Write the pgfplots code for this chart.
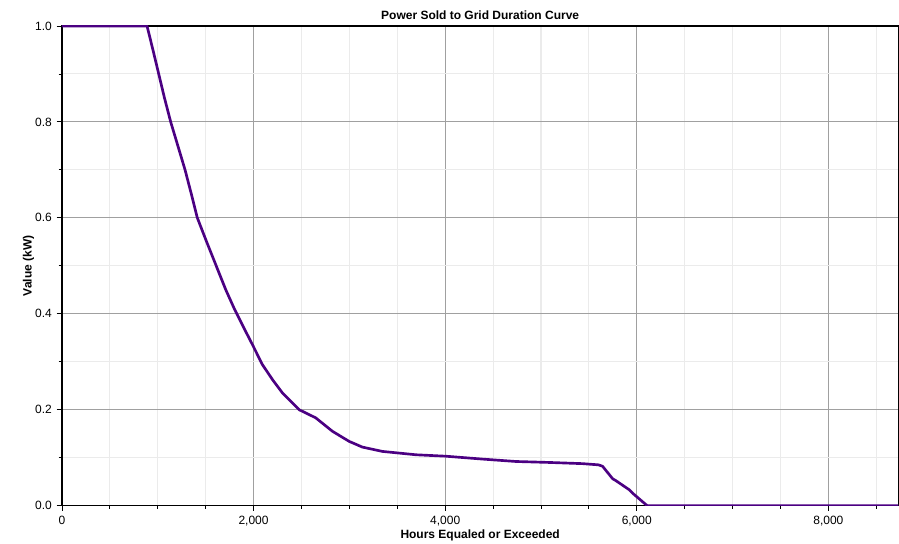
\documentclass[border=0pt]{standalone}
\usepackage{fontspec}
\setmainfont{Liberation Sans}
\usepackage{pgfplots}
\pgfplotsset{compat=1.18}
\usetikzlibrary{calc}
\definecolor{curve}{RGB}{75,0,130}
\definecolor{majgrid}{RGB}{160,160,160}
\definecolor{mingrid}{RGB}{235,235,235}

\begin{document}
\begin{tikzpicture}
\begin{axis}[
  scale only axis,
  width=627.75pt, height=360pt,
  xmin=0, xmax=8730, ymin=0, ymax=1,
  xtick={0,2000,4000,6000,8000},
  minor xtick={500,1000,1500,2500,3000,3500,4500,5000,5500,6500,7000,7500,8500},
  ytick={0,0.2,0.4,0.6,0.8,1.0},
  minor ytick={0.1,0.3,0.5,0.7,0.9},
  grid=both,
  major grid style={majgrid, line width=0.8pt},
  minor grid style={mingrid, line width=0.8pt},
  tick align=outside,
  xtick pos=bottom, ytick pos=left,
  major tick length=4pt, minor tick length=2.5pt,
  tick style={black, line width=0.6pt},
  axis line style={black, line width=0.9pt},
  x tick label style={/pgf/number format/.cd, 1000 sep={,}, assume math mode=true},
  y tick label style={/pgf/number format/.cd, fixed, fixed zerofill, precision=1, assume math mode=true},
  tick label style={font=\fontsize{9}{10}\selectfont},
  scaled ticks=false,
  xlabel={\textbf{Hours Equaled or Exceeded}},
  ylabel={\textbf{Value (kW)}},
  label style={font=\fontsize{9}{10}\selectfont},
  xlabel style={at={(axis description cs:0.5,0)}, anchor=base, yshift=-25pt},
  ylabel style={yshift=-6pt},
  title={\textbf{Power Sold to Grid Duration Curve}},
  title style={font=\fontsize{9}{10}\selectfont, yshift=-5pt},
  clip=true,
]
\coordinate (bl) at (rel axis cs:0,0);
\coordinate (tr) at (rel axis cs:1,1);
\addplot[curve, line width=2pt, line join=round] coordinates {
(0,1.0) (888,1.0) (950,0.95) (1010,0.90) (1070,0.85) (1135,0.80)
(1210,0.75) (1285,0.70) (1350,0.65) (1413,0.60) (1510,0.55)
(1610,0.50) (1710,0.45) (1800,0.41) (1900,0.37) (1990,0.335)
(2092,0.294) (2200,0.262) (2301,0.235) (2475,0.20)
(2649,0.183) (2823,0.155) (2997,0.134) (3136,0.122) (3345,0.113)
(3694,0.106) (4007,0.103) (4390,0.097) (4738,0.092) (5086,0.090)
(5434,0.0875) (5600,0.085) (5643,0.082) (5748,0.056) (5782,0.052)
(5922,0.033) (5956,0.026) (6096,0.002) (6110,0.0) (8760,0.0)
};
\end{axis}
\pgfresetboundingbox
\path ($(bl)+(-46.5pt,-28.5pt)$) rectangle ($(tr)+(0.5pt,19.5pt)$);
\end{tikzpicture}
\end{document}
